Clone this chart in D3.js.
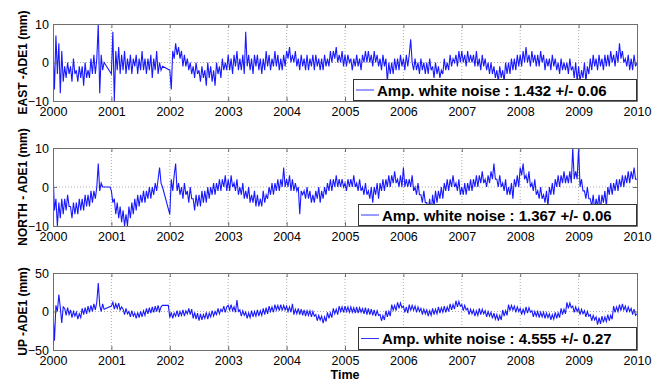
<!DOCTYPE html>
<html>
<head>
<meta charset="utf-8">
<script src="https://cdn.jsdelivr.net/npm/d3@7"></script>
<style>
  body { margin: 0; background: #fff; }
  svg { display: block; }
  text { font-family: "Liberation Sans", Arial, Helvetica, sans-serif; }
</style>
</head>
<body>
<svg id="chart" width="662" height="381"></svg>
<script>
// samples every 0.025 year from 2000.0 (40 a year), null = no data (line jumps the gap)
const startYear = 2000;
const step = 0.025;
const years = [2000, 2001, 2002, 2003, 2004, 2005, 2006, 2007, 2008, 2009, 2010];

const east = [].concat(
  [4,-7,7,-3, 5,-8,3,-5, -1,-4,0,-3, -1,-5,1,-3, -2,-5,-1,-4, -1,-6,0,-4, -2,-4,1,-3, 2,-3,1,10, -8,2,-2,0, null,null,null,null], // 2000
  [-3,8,-10,3, -2,4,-3,2, -2,3,-3,1, -2,2,-3,1, -1,2,-3,1, -2,3,-2,1, -3,1,-2,2, -4,1,-2,3, -3,0,-2,-1, null,null,null,null],     // 2001
  [-2,-7,3,1, 5,2,4,1, 3,-1,2,-1, 1,-2,0,-3, -1,-4,0,-3, -2,-5,-1,-4, -2,-6,0,-4, -1,-5,-2,-6, 0,-3,-1,-4, 1,-2,0,-2],             // 2002
  [2,-2,1,-3, 2,-1,3,-2, 1,-2,2,-3, 8,-1,2,-2, 1,-3,2,-1, 2,-2,1,-3, 1,-2,3,-1, 2,-2,1,-1, 3,-1,2,-2, 1,-2,2,-1],                  // 2003
  [3,1,4,0, 2,0,3,-1, 1,-2,2,-1, 1,-2,2,-2, 1,-1,2,-2, 2,-1,1,-2, 1,-2,2,-1, 1,-1,3,0, 3,1,4,0, 2,0,3,-1],                        // 2004
  [2,-1,2,0, 1,-2,1,-1, 2,-1,1,-2, 2,0,3,0, 3,0,2,-1, 3,0,2,-1, 1,-2,2,-1, 1,-5,0,-3, 0,-3,1,-2, 1,-2,2,-1],                       // 2005
  [1,-2,2,-1, 2,6,0,-2, 1,-2,0,-3, 1,-2,0,-3, 0,-3,1,-2, -1,-4,0,-3, -1,-4,-2,-3, 1,-2,0,-2, 2,-1,1,0, 2,-1,3,0],                 // 2006
  [3,0,2,-1, 3,0,2,0, 2,-1,3,-1, 1,-2,2,-1, 1,-2,0,-3, 0,-3,-1,-4, -2,-5,-1,-4, -2,-5,0,-3, 0,-3,1,-2, 1,-2,2,-1],                // 2007
  [2,-1,3,0, 4,0,2,-1, 3,0,2,-1, 2,-1,3,0, 2,-2,1,-1, 1,-2,2,-1, 1,-2,0,-3, 1,-2,0,-2, 0,-3,1,-2, -1,-4,0,-5],                    // 2008
  [-1,-5,-2,-4, 0,-5,-1,-3, 1,-2,2,-1, 1,-2,2,-1, 1,-2,2,-1, 2,-1,3,0, 2,-1,3,0, 5,1,3,0, 1,-1,2,-2, 1,-2,2,-1],                  // 2009
  [0]
);

const north = [].concat(
  [4,-6,-3,-10, -4,-8,-3,-7, -3,-6,-2,-5, -5,-8,-4,-7, -4,-7,-3,-6, -3,-6,-2,-5, -2,-5,-1,-4, -1,-3,0,6, -1,1,0,null, null,null,null,0],
  [-1,-4,-3,-7, -4,-8,-5,-9, -6,-10,-7,-10, -5,-8,-4,-7, -3,-6,-2,-5, -2,-4,-1,-4, -1,-3,0,-3, 0,-2,1,-1, 2,5,1,0, null,null,null,null],
  [-7,2,-1,3, 6,-1,1,-2, 0,-3,1,-2, -1,-4,0,-3, -3,-6,-2,-5, -2,-5,-1,-4, -1,-4,0,-3, 0,-2,1,-2, 1,-1,2,-1, 2,0,3,-1],
  [2,-1,3,0, 1,-1,2,-2, 0,-2,1,-3, -1,-3,0,-4, -2,-4,-1,-5, -2,-5,-3,-5, -1,-4,-2,-3, 0,-2,1,-2, 1,-1,2,-1, 2,0,5,0],
  [2,0,3,-1, 2,-1,1,-1, 0,-7,-1,-2, -1,-3,0,-3, -1,-4,-2,-4, -1,-3,0,-4, -1,-3,0,-2, 1,-1,2,-1, 2,0,3,0, 2,0,2,0],
  [1,-1,2,0, 2,0,3,0, 1,-1,2,-1, 0,-2,1,-2, -1,-3,0,-4, 0,-2,1,-3, 1,-1,2,-1, 2,0,3,0, 3,1,4,1, 2,0,3,0],
  [5,0,2,0, 2,0,3,-1, 0,-2,1,-2, -2,-4,-1,-4, -4,-6,-3,-7, -2,-5,-1,-4, -1,-3,0,-3, 1,-1,2,-1, 2,0,3,0, 1,-1,2,-2],
  [0,-2,1,-2, 1,-1,2,-1, 2,0,3,0, 3,1,4,1, 2,0,3,1, 4,2,6,2, 2,0,3,0, 1,-1,2,-2, 0,-2,1,-3, 2,0,3,0],
  [5,3,6,2, 3,1,4,0, 1,-1,2,-2, -1,-3,0,-3, -2,-4,-1,-5, 0,-2,1,-2, 2,0,3,0, 3,1,4,1, 3,1,4,1, 10,2,4,2],
  [10,0,2,-1, -1,-3,0,-3, -3,-5,-2,-6, -3,-5,-2,-6, -2,-4,-1,-5, 0,-2,1,-2, 1,-1,2,-1, 2,0,3,0, 3,1,4,1, 4,2,5,2],
  [2]
);

const up = [].concat(
  [0,-38,8,0, 22,5,-15,6, 4,-5,5,-4, 2,-8,0,-6, -1,-10,-3,-8, 4,-4,5,-3, 7,-1,8,0, 10,2,12,37, 8,0,10,3, null,null,null,null],
  [7,12,3,10, 4,11,2,6, 3,-4,4,-3, 0,-7,1,-6, -2,-9,-1,-8, 0,-7,1,-5, 4,-3,5,-2, 6,-1,7,0, 8,0,6,8, null,null,null,8],
  [-8,-1,-9,-2, -6,1,-7,0, -5,2,-6,1, -3,4,-4,3, -9,-1,-10,-2, -12,-3,-11,-4, -9,-1,-10,-2, -7,1,-6,0, -4,4,-3,3, 0,7,-1,6],
  [8,2,9,1, 6,-1,15,0, 2,-6,1,-5, -1,-9,-2,-8, 1,-7,0,-6, 2,-6,1,-5, 4,-4,5,-3, 7,0,6,-1, 9,2,8,1, 9,1,8,2],
  [7,0,6,-1, 10,-4,3,-3, 4,-4,3,-5, 2,-6,1,-5, 1,-7,0,-6, -4,-12,-5,-11, -6,-15,-7,-13, -1,-9,-2,-8, 4,-3,3,-4, 7,0,6,-1],
  [7,0,6,-1, 6,-1,5,-2, 6,-2,5,-1, 4,-3,5,-4, 4,-4,3,-5, 2,-6,1,-5, -4,-12,-5,-11, 1,-7,0,-6, 9,2,8,1, 12,4,11,5],
  [7,-1,6,-2, 9,1,8,2, 7,-1,6,0, 4,-4,3,-3, 2,-6,1,-5, 4,-4,3,-3, 6,-2,5,-1, 7,-1,6,0, 10,2,9,3, 14,6,13,7],
  [9,1,8,2, 4,-4,3,-3, 2,-6,1,-5, 4,-4,3,-3, 1,-7,0,-6, -1,-9,-2,-10, -4,-12,-5,-11, 2,-6,1,-5, 9,1,8,2, 7,-1,6,0],
  [4,-4,3,-3, 6,-2,5,-1, 1,-7,0,-6, 0,-8,-1,-7, -1,-9,-2,-8, -3,-11,-4,-10, -1,-9,-2,-8, 4,-4,3,-3, 12,4,11,5, 7,-1,6,0],
  [4,-4,3,-3, 1,-7,0,-6, -4,-12,-5,-11, -7,-17,-8,-16, -6,-14,-7,-13, -4,-12,-5,-10, 7,-1,6,0, 9,1,10,2, 7,-1,6,0, 4,-4,3,-5],
  [-3]
);

const seriesLabels = ["EAST -ADE1 (mm)", "NORTH - ADE1 (mm)", "UP -ADE1 (mm)"];
const noiseLabels = ["1.432 +/- 0.06", "1.367 +/- 0.06", "4.555 +/- 0.27"];
const yTicks = [[-10, 0, 10], [-10, 0, 10], [-50, 0, 50]];

const svg = d3.select("#chart");
const left = 53, right = 637;
const axisColor = "#6e6e6e";

const panels = [
  { values: east,  top: 24,  bottom: 101, legX: 353, legY: 79 },
  { values: north, top: 148, bottom: 226, legX: 358, legY: 204 },
  { values: up,    top: 273, bottom: 350, legX: 358, legY: 327 }
];

const x = d3.scaleLinear().domain([2000, 2010]).range([left, right]);

function styleAxis(a) {
  a.select(".domain").attr("stroke", axisColor);
  a.selectAll("line").attr("stroke", axisColor);
  a.selectAll("text").attr("font-size", "12.5px").attr("fill", "#000")
    .attr("font-family", "Liberation Sans, Arial, sans-serif");
}

panels.forEach((p, i) => {
  const ticks = yTicks[i];
  const y = d3.scaleLinear().domain([ticks[0], ticks[2]]).range([p.bottom, p.top]);
  const g = svg.append("g");

  // grid
  g.selectAll(".vg").data(years.slice(1, -1)).enter().append("line")
    .attr("x1", d => x(d)).attr("x2", d => x(d))
    .attr("y1", p.top).attr("y2", p.bottom)
    .attr("stroke", "#999").attr("stroke-width", 0.8).attr("stroke-dasharray", "1,2");
  g.append("line")
    .attr("x1", left).attr("x2", right).attr("y1", y(0)).attr("y2", y(0))
    .attr("stroke", "#999").attr("stroke-width", 0.8).attr("stroke-dasharray", "1,2");

  // data line
  const pts = p.values.map((v, k) => [startYear + k * step, v]).filter(d => d[1] !== null);
  svg.append("clipPath").attr("id", "clip" + i).append("rect")
    .attr("x", left).attr("y", p.top).attr("width", right - left).attr("height", p.bottom - p.top);
  const line = d3.line().x(d => x(d[0])).y(d => y(d[1]));
  g.append("g").attr("clip-path", "url(#clip" + i + ")")
    .append("path").datum(pts)
    .attr("fill", "none").attr("stroke", "#0000ff").attr("stroke-width", 1.1)
    .attr("stroke-opacity", 0.9)
    .attr("d", line);

  // axes (ticks inside, matlab style)
  g.append("g").attr("transform", `translate(0,${p.bottom})`)
    .call(d3.axisBottom(x).tickValues(years).tickFormat(d3.format("d")).tickSizeInner(-4).tickSizeOuter(0).tickPadding(6))
    .call(styleAxis);
  g.append("g").attr("transform", `translate(0,${p.top})`)
    .call(d3.axisTop(x).tickValues(years).tickFormat("").tickSizeInner(-4).tickSizeOuter(0))
    .call(styleAxis);
  g.append("g").attr("transform", `translate(${left},0)`)
    .call(d3.axisLeft(y).tickValues(ticks).tickSizeInner(-4).tickSizeOuter(0).tickPadding(4))
    .call(styleAxis);
  g.append("g").attr("transform", `translate(${right},0)`)
    .call(d3.axisRight(y).tickValues(ticks).tickFormat("").tickSizeInner(-4).tickSizeOuter(0))
    .call(styleAxis);

  // y label
  g.append("text")
    .attr("transform", `translate(23,${(p.top + p.bottom) / 2}) rotate(-90)`)
    .attr("text-anchor", "middle").attr("dominant-baseline", "central")
    .attr("font-size", "12px").attr("font-weight", "bold")
    .text(seriesLabels[i]);

  // legend
  const lw = right - p.legX, lh = p.bottom - p.legY;
  const leg = g.append("g").attr("transform", `translate(${p.legX},${p.legY})`);
  leg.append("rect").attr("x", 0.5).attr("y", 0.5).attr("width", lw - 1).attr("height", lh - 1)
    .attr("fill", "#fff").attr("stroke", "#333").attr("stroke-width", 1);
  leg.append("line").attr("x1", 3).attr("x2", 21).attr("y1", lh / 2).attr("y2", lh / 2)
    .attr("stroke", "#0000ff").attr("stroke-width", 0.8);
  leg.append("text").attr("x", 24).attr("y", lh / 2).attr("dominant-baseline", "central")
    .attr("font-size", "15px").attr("font-weight", "bold")
    .text("Amp. white noise : " + noiseLabels[i]);
});

svg.append("text").attr("x", (left + right) / 2).attr("y", 379)
  .attr("text-anchor", "middle").attr("font-size", "12.5px").attr("font-weight", "bold")
  .text("Time");
</script>
</body>
</html>
